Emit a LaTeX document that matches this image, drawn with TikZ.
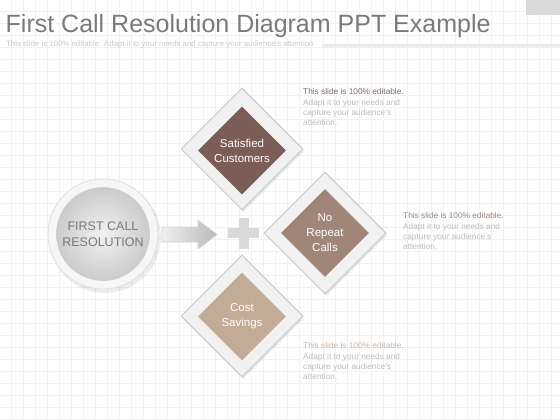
\documentclass[tikz,border=0pt]{standalone}
\usepackage{fontspec}
\setmainfont{Liberation Sans}
\usetikzlibrary{shapes.geometric,shadings}
\definecolor{gridc}{HTML}{F1F1F1}
\definecolor{titlec}{HTML}{7A7A7A}
\definecolor{subc}{HTML}{CACACA}
\definecolor{outerfill}{HTML}{F1F1F1}
\definecolor{outerdraw}{HTML}{C9C9C9}
\definecolor{brownA}{HTML}{7B5D56}
\definecolor{brownB}{HTML}{A08679}
\definecolor{brownC}{HTML}{C2AC98}
\definecolor{headA}{HTML}{7E6A66}
\definecolor{headB}{HTML}{9C8A82}
\definecolor{headC}{HTML}{C8B6A8}
\definecolor{bodyc}{HTML}{BDBDBD}
\definecolor{plusc}{HTML}{D9D9D9}
\definecolor{boxc}{HTML}{D9D9D9}
\definecolor{linec}{HTML}{ECECEC}
\definecolor{ringfill}{HTML}{F6F6F6}
\definecolor{ringdraw}{HTML}{DEDEDE}
\definecolor{indraw}{HTML}{CDCDCD}
\definecolor{inlight}{HTML}{F2F2F2}
\definecolor{indark}{HTML}{CBCBCB}
\definecolor{intext}{HTML}{787878}
\definecolor{arrL}{HTML}{F0F0F0}
\definecolor{arrR}{HTML}{B9B9B9}
\definecolor{arrD}{HTML}{D2D2D2}
\tikzset{
  outerdia/.style={diamond, aspect=1, minimum width=122pt, minimum height=122pt, inner sep=0pt,
     fill=outerfill, draw=outerdraw, line width=1pt},
  innerdia/.style={diamond, aspect=1, minimum width=88pt, minimum height=88pt, inner sep=0pt,
     fill=#1, text=white, font=\fontsize{11.5}{15}\selectfont, align=center},
  shadowdia/.style={diamond, aspect=1, minimum width=122pt, minimum height=122pt, inner sep=0pt,
     fill=black, opacity=0.08},
  note/.style={anchor=north west, align=left, inner sep=0pt, text=bodyc, font=\fontsize{8.3}{10.3}\selectfont},
}
\begin{document}
\begin{tikzpicture}[x=1pt,y=-1pt]
\useasboundingbox (0,0) rectangle (560,420);
\fill[white] (0,0) rectangle (560,420);
% grid
\foreach \i in {0,...,46} {
  \draw[gridc, line width=0.8pt] ({-1+12*\i},0) -- ({-1+12*\i},420);
}
\foreach \j in {0,...,35} {
  \draw[gridc, line width=0.8pt] (0,{-1+12*\j}) -- (560,{-1+12*\j});
}
% header
\fill[boxc] (526,0) rectangle (560,15.5);
\draw[line width=3pt, linec] (322,45.5) -- (560,45.5);
\node[anchor=base west, inner sep=0pt, text=titlec, font=\fontsize{25}{28}\selectfont] (title) at (5.5,33) {First Call Resolution Diagram PPT Example};
\node[anchor=base west, inner sep=0pt, text=subc, font=\fontsize{7.85}{10}\selectfont] (sub) at (6,47) {This slide is 100\% editable. Adapt it to your needs and capture your audience's attention.};
% circle
\fill[black, opacity=0.07] (105,237) circle (56);
\node[circle, minimum size=110pt, inner sep=0pt, fill=ringfill, draw=ringdraw, line width=0.8pt] (outc) at (103,234) {};
\node[circle, minimum size=93pt, inner sep=0pt, draw=indraw, line width=0.6pt,
  shade, inner color=inlight, outer color=indark,
  text=intext, align=center, font=\fontsize{12.5}{15.5}\selectfont] (inc) at (103,234) {FIRST CALL\\RESOLUTION};
% arrow
\shade[left color=arrL, right color=arrR, draw=arrD, line width=0.6pt]
  (162,227) -- (198,227) -- (198,220) -- (217,234.5) -- (198,249) -- (198,242) -- (162,242) -- cycle;
% plus
\node[inner sep=0pt, minimum width=31pt, minimum height=10pt, fill=plusc] (plh) at (243.5,233) {};
\node[inner sep=0pt, minimum width=10pt, minimum height=31pt, fill=plusc] (plv) at (243.5,233) {};
% diamonds
\node[shadowdia] at (243.5,151) {};
\node[shadowdia] at (326.5,235) {};
\node[shadowdia] at (243.5,318) {};
\node[outerdia] (o1) at (242,149) {};
\node[outerdia] (o2) at (325,233) {};
\node[outerdia] (o3) at (242,316) {};
\node[innerdia=brownA] (d1) at (242,150.5) {Satisfied\\Customers};
\node[innerdia=brownB] (d2) at (325,233) {No\\Repeat\\Calls};
\node[innerdia=brownC] (d3) at (242,316.5) {Cost\\Savings};
% notes
\node[note] (n1) at (303,88.5) {\textcolor{headA}{This slide is 100\% editable.}\\Adapt it to your needs and\\capture your audience's\\attention.};
\node[note] (n2) at (403,212.5) {\textcolor{headB}{This slide is 100\% editable.}\\Adapt it to your needs and\\capture your audience's\\attention.};
\node[note] (n3) at (303,342.5) {\textcolor{headC}{This slide is 100\% editable.}\\Adapt it to your needs and\\capture your audience's\\attention.};
\end{tikzpicture}
\end{document}
